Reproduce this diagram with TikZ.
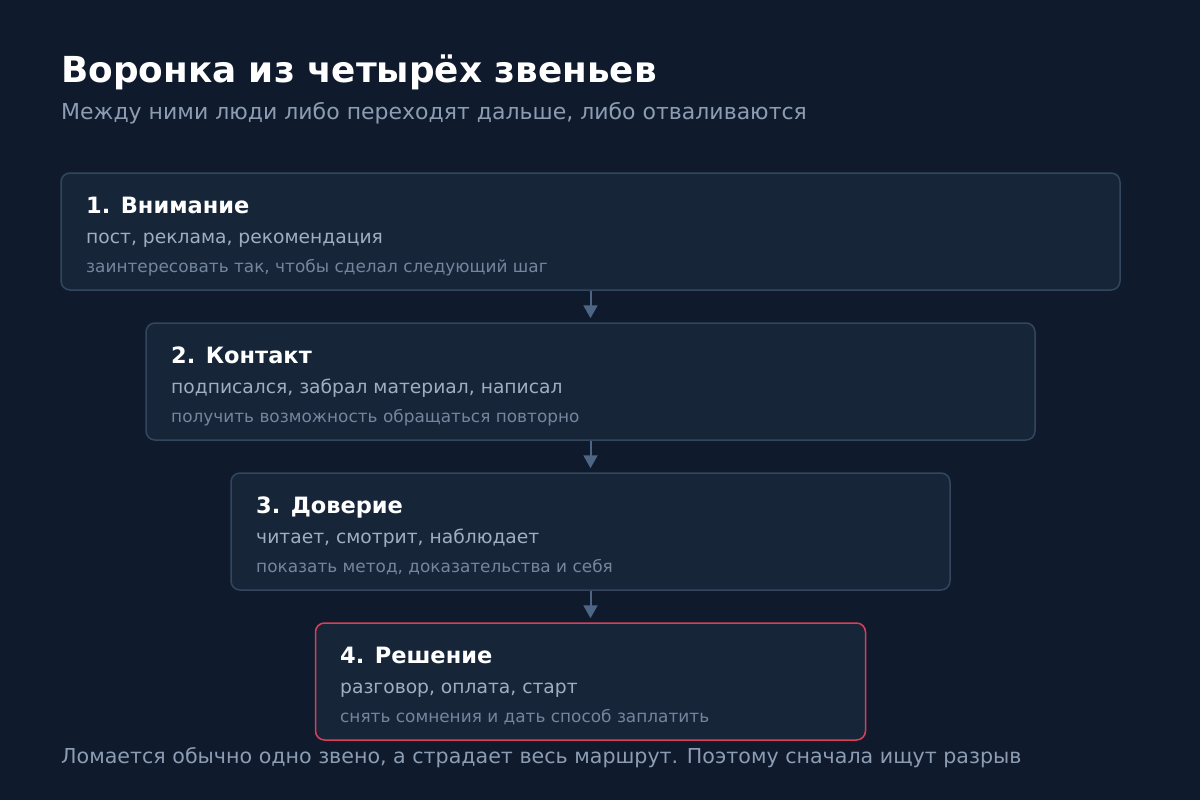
\documentclass[tikz,border=0pt]{standalone}
\usepackage{fontspec}
\setmainfont{DejaVu Sans}
\usetikzlibrary{arrows.meta}
\definecolor{bgcol}{HTML}{0F1A2C}
\definecolor{boxcol}{HTML}{172539}
\definecolor{edgecol}{HTML}{33465E}
\definecolor{arrcol}{HTML}{4E6685}
\definecolor{hotcol}{HTML}{D8405A}
\definecolor{subcol}{HTML}{8C9DB3}
\definecolor{whatcol}{HTML}{A0AEC0}
\definecolor{goalcol}{HTML}{74869C}
\tikzset{
  stage/.style={draw=edgecol, fill=boxcol, line width=1.5pt, rounded corners=9pt, minimum height=117pt, inner sep=0pt},
  label/.style={anchor=base west, inner sep=0pt},
  flow/.style={draw=arrcol, line width=2pt, -{Triangle[length=13pt,width=14pt]}}
}
\begin{document}
\begin{tikzpicture}[x=1pt, y=-1pt]

	\useasboundingbox[fill=bgcol] (0, 0) rectangle (1200, 800);

	\node[label, text=white] (title) at (61, 82) {\fontsize{35.8}{40}\selectfont\bfseries Воронка из четырёх звеньев};
	\node[label, text=subcol] (sub) at (61, 119) {\fontsize{22}{24}\selectfont Между ними люди либо переходят дальше, либо отваливаются};

	\node[stage, minimum width=1059pt] (b1) at (590.5, 231.5) {};
	\node[stage, minimum width=889pt] (b2) at (590.5, 381.5) {};
	\node[stage, minimum width=719pt] (b3) at (590.5, 531.5) {};
	\node[stage, draw=hotcol, minimum width=550pt] (b4) at (590.5, 681.5) {};

	\node[label, text=white] (t1) at (86, 213) {\fontsize{22.5}{26}\selectfont\bfseries 1. Внимание};
	\node[label, text=whatcol] (w1) at (86, 243) {\fontsize{18.7}{20}\selectfont пост, реклама, рекомендация};
	\node[label, text=goalcol] (g1) at (86, 272) {\fontsize{16.9}{18}\selectfont заинтересовать так, чтобы сделал следующий шаг};

	\node[label, text=white] (t2) at (171, 363) {\fontsize{22.5}{26}\selectfont\bfseries 2. Контакт};
	\node[label, text=whatcol] (w2) at (171, 393) {\fontsize{18.7}{20}\selectfont подписался, забрал материал, написал};
	\node[label, text=goalcol] (g2) at (171, 422) {\fontsize{16.9}{18}\selectfont получить возможность обращаться повторно};

	\node[label, text=white] (t3) at (256, 513) {\fontsize{22.5}{26}\selectfont\bfseries 3. Доверие};
	\node[label, text=whatcol] (w3) at (256, 543) {\fontsize{18.7}{20}\selectfont читает, смотрит, наблюдает};
	\node[label, text=goalcol] (g3) at (256, 572) {\fontsize{16.9}{18}\selectfont показать метод, доказательства и себя};

	\node[label, text=white] (t4) at (340, 663) {\fontsize{22.5}{26}\selectfont\bfseries 4. Решение};
	\node[label, text=whatcol] (w4) at (340, 693) {\fontsize{18.7}{20}\selectfont разговор, оплата, старт};
	\node[label, text=goalcol] (g4) at (340, 722) {\fontsize{16.9}{18}\selectfont снять сомнения и дать способ заплатить};

	\draw[flow] (b1.south) -- ([yshift=4pt]b2.north);
	\draw[flow] (b2.south) -- ([yshift=4pt]b3.north);
	\draw[flow] (b3.south) -- ([yshift=4pt]b4.north);

	\node[label, text=subcol] (foot) at (61, 763) {\fontsize{20.6}{22}\selectfont Ломается обычно одно звено, а страдает весь маршрут. Поэтому сначала ищут разрыв};

\end{tikzpicture}
\end{document}
